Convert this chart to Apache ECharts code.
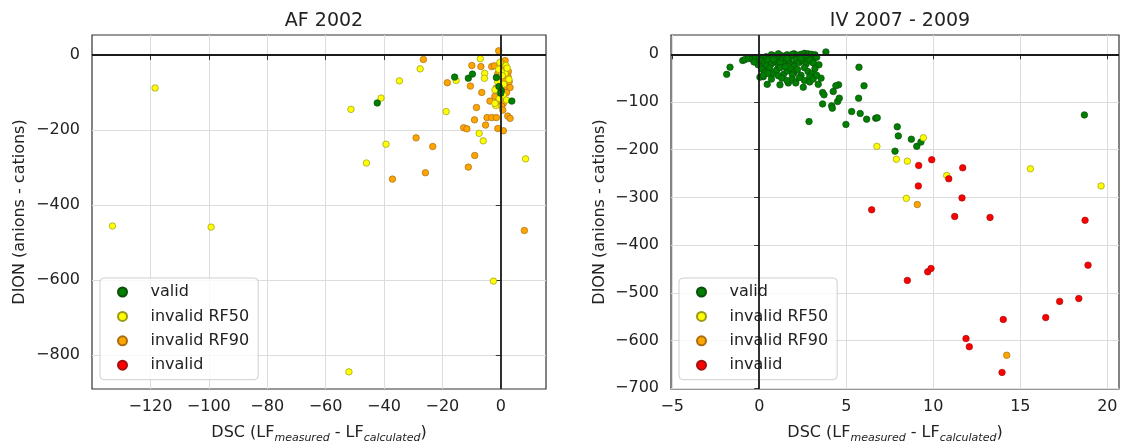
<!DOCTYPE html>
<html><head><meta charset="utf-8">
<script src="https://cdn.jsdelivr.net/npm/echarts@6/dist/echarts.min.js"></script>
<style>html,body{margin:0;padding:0;background:#fff}#c{width:1121px;height:445px}</style>
</head><body><div id="c"></div>
<script>
// ---------- DATA ----------
const seriesNames = ['valid', 'invalid RF50', 'invalid RF90', 'invalid'];
const titles = ['AF 2002', 'IV 2007 - 2009'];

// AF 2002 (left)  [DSC, DION]
const afValid = [[-42.3,-128],[-15.8,-59],[-11.1,-62],[-9.7,-51],[-1.5,-60],[-0.6,-84],[0.2,-95],[0,-102],[3.8,-123]];
const afRF50 = [[-118.4,-88],[-133,-456],[-99.2,-459],[-51.3,-145],[-46,-288],[-52,-845],[-2.5,-603],[-41,-115],
  [-39.3,-238],[-34.7,-69],[-27.6,-37],[-18.7,-151],[-15.3,-68],[-7,-10],[-5.5,-49],[-5.6,-62],[-7.4,-209],[-6,-229],
  [8.5,-277],[-2,-93],[-1.7,-135],[-2,-129],[-0.5,-116],[0.9,-107],[2,-120],[1.8,-28],[1.5,-49],[0.1,-44],[-0.7,-38],
  [2.8,-65],[0.5,-55],[-1,-72],[1,-78],[-0.3,-20],[2.2,-35]];
const afRF90 = [[-26.5,-12],[-9.9,-28],[-6.8,-31],[-18.3,-74],[-10.4,-83],[-6.5,-100],[-3.7,-123],[-8.3,-140],[-9,-173],
  [-4.7,-167],[-3.1,-167],[-1.5,-167],[-5.2,-187],[-12.7,-194],[-11.6,-197],[-1,-196],[0.9,-202],[-29,-221],[-23.3,-244],
  [-8.9,-268],[-11.1,-299],[-25.8,-314],[-37.1,-331],[8.1,-468],[2.4,-163],[3.2,-169],[-0.7,11],[1.5,-15],[-3.1,-31],
  [-2.2,-29],[2.6,-44],[2.9,-71],[1.5,-84],[3.2,-87],[-1.2,-123],[0.1,-111],[0.9,-129],[0.3,-136],[0.7,-147],[-1,-50],
  [0,-60],[1,-65],[-0.5,-75],[2,-100],[1,-35],[-2,-110],[0.5,-25],[2.5,-58],[-1.5,-88]];
const afInvalid = [];

// IV 2007 - 2009 (right)
const ivValid = [[-1.87,-42],[-1.68,-27],[2.86,-141],[3.83,5],[3.43,-22],[3.55,-50],[3.39,-63],[3.64,-80],[3.72,-85],
  [3.64,-104],[4.16,-108],[4.2,-113],[4.5,-99],[4.6,-92],[4.56,-64],[4.4,-66],[4.25,-78],[4.98,-147],[5.31,-120],
  [5.73,-27],[5.71,-92],[5.8,-124],[6.02,-66],[6.17,-136],[6.69,-134],[6.78,-133],[7.93,-152],[7.99,-171],[8.74,-178],
  [9.05,-193],[9.29,-184],[7.8,-203],[18.68,-127],[3.1,-12],[1.67,-60],[2.53,-69],[0.46,-63],[1.19,-64],[0.23,-47],[0.04,-48],
  [-0.95,-13],[-0.82,-11],[-0.63,-9],[-0.4,-10],[-0.2,-8],[0,-6],[0.2,-9],[0.4,-5],[0.6,-8],[0.8,-3],[1.0,-6],[1.2,-2],
  [1.4,-4],[1.6,-1],[1.8,-3],[2.0,1],[2.2,-2],[2.4,0],[2.6,2],[2.8,1],[3.0,0],[3.2,-1],[1.1,1],[1.9,0],[0.7,-1],[2.7,-4],[3.3,-6],
  [-0.06,-19],[-0.06,-22],[0.14,-14],[0.3,-18],[0.5,-12],[0.7,-20],[0.9,-15],[1.1,-23],[1.3,-12],[1.5,-18],[1.7,-14],
  [1.9,-22],[2.1,-11],[2.3,-17],[2.5,-13],[2.7,-20],[2.9,-12],[3.1,-18],[0.4,-24],[1.2,-17],[2.0,-25],[0.8,-11],[1.6,-9],
  [2.4,-8],[-0.3,-16],[0.14,-31],[0.33,-37],[0.23,-44],[0.6,-29],[0.8,-40],[1.0,-33],[1.2,-28],[1.4,-42],[1.6,-35],
  [1.8,-30],[2.0,-38],[2.2,-32],[2.4,-44],[2.6,-28],[2.8,-36],[3.0,-41],[3.2,-30],[0.5,-40],[1.1,-45],[1.9,-43],[2.9,-47],
  [1.5,-26],[0.7,-52],[1.3,-50],[1.9,-53],[2.3,-49],[2.6,-55],[2.9,-58],[3.1,-52],[1.6,-55],[2.1,-60],[3.3,-44]];
const ivRF50 = [[6.76,-193],[7.88,-220],[8.51,-224],[9.43,-175],[10.77,-254],[8.45,-302],[15.58,-240],[19.64,-276]];
const ivRF90 = [[9.08,-315],[14.22,-631]];
const ivInvalid = [[9.91,-221],[9.16,-233],[11.69,-238],[10.89,-261],[9.14,-276],[11.65,-301],[6.46,-326],[11.23,-340],
  [13.26,-342],[18.72,-348],[18.89,-442],[9.68,-456],[9.87,-449],[8.51,-474],[17.26,-518],[18.36,-512],[16.46,-552],
  [14.02,-556],[11.88,-596],[12.07,-613],[13.95,-667]];

const afXTicks = [-120,-100,-80,-60,-40,-20,0];
const afYTicks = [0,-200,-400,-600,-800];
const ivXTicks = [-5,0,5,10,15,20];
const ivYTicks = [0,-100,-200,-300,-400,-500,-600,-700];

// ---------- STYLE ----------
const FONT = 'DejaVu Sans';
const TXT = '#222';
const colors = {
  'valid': ['#008000', '#0b4d0b'],
  'invalid RF50': ['#ffff00', '#9a9a1a'],
  'invalid RF90': ['#ffa500', '#a86d12'],
  'invalid': ['#ff0000', '#a01010']
};
const fmt = v => String(v).replace('-', '\u2212');

function xAxis(gi, min, max, interval, ticks) {
  return {
    type: 'value', gridIndex: gi, min, max, minInterval: interval, maxInterval: interval,
    axisLine: {show: false},
    axisTick: {show: true, length: 5, lineStyle: {color: '#333', width: 1}, customValues: ticks},
    axisLabel: {show: true, margin: 10, color: TXT, fontFamily: FONT, fontSize: 16, formatter: fmt,
      customValues: ticks, showMinLabel: true, showMaxLabel: true},
    splitLine: {show: true, lineStyle: {color: '#dcdcdc', width: 1}},
    name: '{n|DSC (LF}{s|measured}{n| - LF}{s|calculated}{n|)}',
    nameLocation: 'middle', nameGap: 33,
    nameTextStyle: {color: TXT, fontFamily: FONT, rich: {
      n: {fontSize: 16, lineHeight: 22, color: TXT, fontFamily: FONT},
      s: {fontSize: 11, fontStyle: 'italic', verticalAlign: 'bottom', color: TXT, fontFamily: FONT}
    }}
  };
}
function yAxis(gi, min, max, interval, ticks, gap) {
  return {
    type: 'value', gridIndex: gi, min, max, minInterval: interval, maxInterval: interval,
    axisLine: {show: false},
    axisTick: {show: true, length: 5, lineStyle: {color: '#333', width: 1}, customValues: ticks},
    axisLabel: {show: true, margin: 12, color: TXT, fontFamily: FONT, fontSize: 16, formatter: fmt,
      customValues: ticks},
    splitLine: {show: true, lineStyle: {color: '#dcdcdc', width: 1}},
    name: 'DION (anions - cations)', nameLocation: 'middle', nameGap: gap,
    nameTextStyle: {color: TXT, fontFamily: FONT, fontSize: 16}
  };
}
function sc(name, data, gi) {
  return {
    type: 'scatter', name, data, xAxisIndex: gi, yAxisIndex: gi, symbol: 'circle', symbolSize: 6.5,
    itemStyle: {color: colors[name][0], borderColor: colors[name][1], borderWidth: 0.7, opacity: 1},
    emphasis: {disabled: true}, animation: false, z: 3
  };
}
function zeroLines(gi) {
  return {
    type: 'scatter', name: 'zero' + gi, data: [], xAxisIndex: gi, yAxisIndex: gi, z: 2, silent: true,
    markLine: {silent: true, symbol: ['none', 'none'], animation: false, label: {show: false},
      lineStyle: {color: '#1a1a1a', width: 1.8, type: 'solid'},
      emphasis: {disabled: true},
      data: [{xAxis: 0}, {yAxis: 0}]}
  };
}
function legend(left) {
  return {
    orient: 'vertical', left, top: 278, data: seriesNames, icon: 'circle',
    itemWidth: 46, itemHeight: 9, itemGap: 5.4, padding: [4.5, 9, 5, 17],
    backgroundColor: 'rgba(255,255,255,0.8)', borderColor: '#cfcfcf', borderWidth: 1, borderRadius: 4,
    textStyle: {color: TXT, fontFamily: FONT, fontSize: 16, lineHeight: 19},
    selectedMode: false
  };
}

const chart = echarts.init(document.getElementById('c'), null, {renderer: 'canvas'});
chart.setOption({
  animation: false,
  backgroundColor: '#fff',
  textStyle: {fontFamily: FONT},
  title: [
    {text: titles[0], left: 319, top: 7, textAlign: 'center', textStyle: {color: TXT, fontFamily: FONT, fontSize: 19, fontWeight: 'normal'}},
    {text: titles[1], left: 895, top: 7, textAlign: 'center', textStyle: {color: TXT, fontFamily: FONT, fontSize: 19, fontWeight: 'normal'}}
  ],
  grid: [
    {left: 92, top: 35, width: 454, height: 354, show: true, borderColor: '#333', borderWidth: 1.2, backgroundColor: 'transparent', outerBoundsMode: 'none', containLabel: false},
    {left: 671, top: 35, width: 448, height: 354, show: true, borderColor: '#333', borderWidth: 1.2, backgroundColor: 'transparent', outerBoundsMode: 'none', containLabel: false}
  ],
  xAxis: [xAxis(0, -140, 15.5, 20, afXTicks), xAxis(1, -5.07, 20.67, 5, ivXTicks)],
  yAxis: [yAxis(0, -890.7, 53.3, 200, afYTicks, 64), yAxis(1, -701.7, 40.5, 100, ivYTicks, 63)],
  legend: [legend(100), legend(679)],
  series: [
    zeroLines(0), zeroLines(1),
    sc('invalid RF90', afRF90, 0), sc('invalid RF50', afRF50, 0), sc('valid', afValid, 0), sc('invalid', afInvalid, 0),
    sc('valid', ivValid, 1), sc('invalid RF50', ivRF50, 1), sc('invalid RF90', ivRF90, 1), sc('invalid', ivInvalid, 1)
  ]
});
</script></body></html>
